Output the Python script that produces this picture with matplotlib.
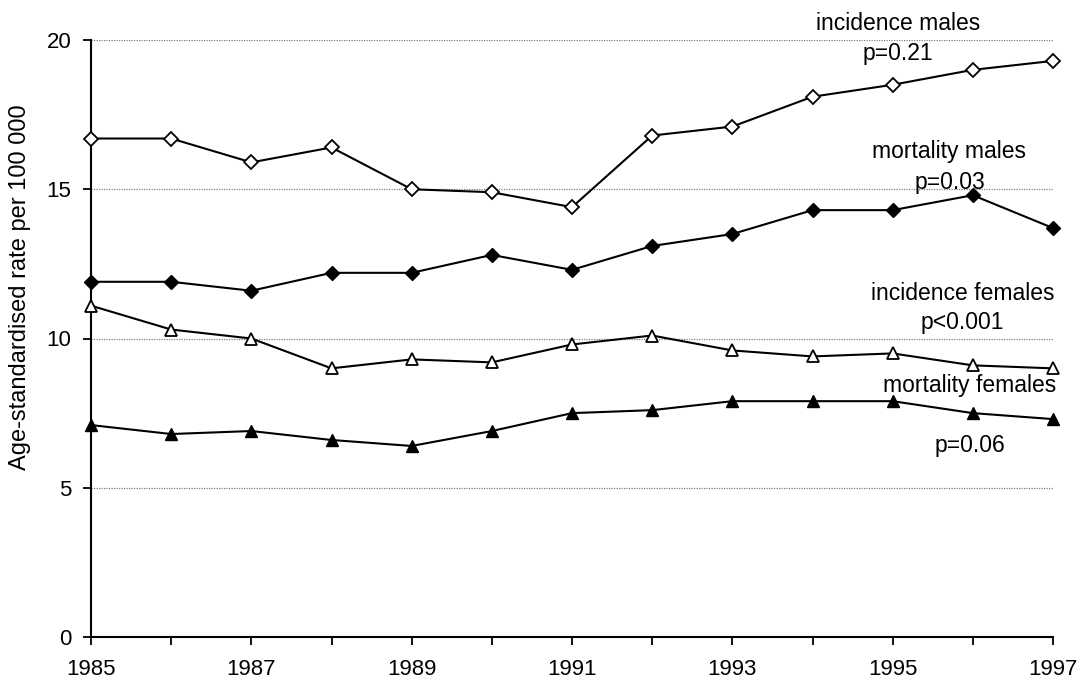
import matplotlib
matplotlib.use("Agg")
import matplotlib.pyplot as plt

plt.rcParams['font.family'] = ['Liberation Sans', 'DejaVu Sans']

years = list(range(1985, 1998))

# age-standardised rates per 100 000
inc_males = [16.7, 16.7, 15.9, 16.4, 15.0, 14.9, 14.4, 16.8, 17.1, 18.1, 18.5, 19.0, 19.3]
mort_males = [11.9, 11.9, 11.6, 12.2, 12.2, 12.8, 12.3, 13.1, 13.5, 14.3, 14.3, 14.8, 13.7]
inc_females = [11.1, 10.3, 10.0, 9.0, 9.3, 9.2, 9.8, 10.1, 9.6, 9.4, 9.5, 9.1, 9.0]
mort_females = [7.1, 6.8, 6.9, 6.6, 6.4, 6.9, 7.5, 7.6, 7.9, 7.9, 7.9, 7.5, 7.3]

labels = ["incidence males", "p=0.21", "mortality males", "p=0.03",
          "incidence females", "p<0.001", "mortality females", "p=0.06"]
label_x = [1995.07, 1995.07, 1995.7, 1995.72, 1995.87, 1995.87, 1995.96, 1995.97]
label_y = [20.54, 19.56, 16.25, 15.24, 11.52, 10.52, 8.41, 6.4]

fig = plt.figure(figsize=(10.87, 6.82), dpi=100)
ax = fig.add_axes([91 / 1087, 45 / 682, (1053 - 91) / 1087, (637 - 40) / 682])

ax.plot(years, inc_males, color='black', lw=1.5, marker='D', ms=7,
        mfc='white', mec='black', mew=1.3, clip_on=False, zorder=3)
ax.plot(years, mort_males, color='black', lw=1.5, marker='D', ms=7,
        mfc='black', mec='black', clip_on=False, zorder=3)
ax.plot(years, inc_females, color='black', lw=1.5, marker='^', ms=8.5,
        mfc='white', mec='black', mew=1.3, clip_on=False, zorder=3)
ax.plot(years, mort_females, color='black', lw=1.5, marker='^', ms=8.5,
        mfc='black', mec='black', clip_on=False, zorder=3)

for txt, x, y in zip(labels, label_x, label_y):
    ax.text(x, y, txt, ha='center', va='center', fontsize=16.5)

ax.set_xlim(1985, 1997)
ax.set_ylim(0, 20)
ax.set_xticks(range(1985, 1998))
ax.set_xticklabels([str(y) if (y - 1985) % 2 == 0 else "" for y in years])
ax.set_yticks([0, 5, 10, 15, 20])
ax.tick_params(axis='both', labelsize=16, direction='out', length=6, width=1.3,
               color='black')
ax.tick_params(axis='x', pad=10)
ax.tick_params(axis='y', pad=8)
ax.yaxis.grid(True, color='#808080', linestyle=(0, (1, 1)), linewidth=0.9)
ax.set_axisbelow(True)
for side in ['top', 'right']:
    ax.spines[side].set_visible(False)
for side in ['left', 'bottom']:
    ax.spines[side].set_linewidth(1.5)

ax.set_ylabel("Age-standardised rate per 100 000", fontsize=17)
ax.yaxis.set_label_coords(-60 / 962, 0.586)

fig.savefig("out.png", dpi=100)
